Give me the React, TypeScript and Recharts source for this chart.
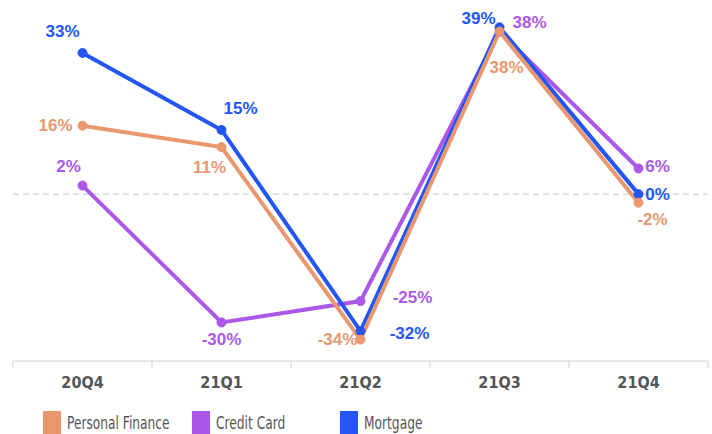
import { LineChart, Line, XAxis, YAxis, ReferenceLine, LabelList } from 'recharts'

const quarters = ['20Q4', '21Q1', '21Q2', '21Q3', '21Q4']
const personalFinance = [16, 11, -34, 38, -2]
const creditCard = [2, -30, -25, 38, 6]
const mortgage = [33, 15, -32, 39, 0]

const data = quarters.map((q, i) => ({
  quarter: q,
  personalFinance: personalFinance[i],
  creditCard: creditCard[i],
  mortgage: mortgage[i],
}))

const COLORS = {
  personalFinance: '#E8976F',
  creditCard: '#AB58E8',
  mortgage: '#2356F5',
}

// label nudges per point, [dx, dy] from the dot
const labelOffsets: Record<string, [number, number][]> = {
  mortgage: [[-20, -21], [19, -21], [49, 2], [-21, -9], [19, 0]],
  personalFinance: [[-27, 0], [-12, 20], [-23, 0], [7, 36], [14, 17]],
  creditCard: [[-14, -19], [0, 17], [52, -4], [30, -9], [19, -2]],
}

const W = 712
const H = 400
const LEFT = 13
const RIGHT = 4
const BAND = (W - LEFT - RIGHT) / quarters.length

const makeLabel = (key: string) => (props: any) => {
  const { x, y, value, index } = props
  const [dx, dy] = labelOffsets[key][index]
  return (
    <text
      x={x + dx}
      y={y + dy}
      textAnchor="middle"
      dominantBaseline="central"
      fill={COLORS[key as keyof typeof COLORS]}
      fontFamily="'Liberation Sans', Arial, sans-serif"
      fontWeight="bold"
      fontSize={17}
    >
      {value}%
    </text>
  )
}

const QuarterTick = (props: any) => {
  const { x, y, payload, index } = props
  return (
    <g>
      <line x1={x - BAND / 2} x2={x - BAND / 2} y1={y} y2={y + 7} stroke="#d0d0d0" />
      {index === quarters.length - 1 && (
        <line x1={x + BAND / 2} x2={x + BAND / 2} y1={y} y2={y + 7} stroke="#d0d0d0" />
      )}
      <text
        x={x}
        y={y + 21}
        textAnchor="middle"
        dominantBaseline="central"
        fill="#555"
        fontFamily="'DejaVu Sans Condensed', Tahoma, sans-serif"
        fontWeight="bold"
        fontSize={16}
      >
        {payload.value}
      </text>
    </g>
  )
}

const legendItems = [
  { key: 'personalFinance', name: 'Personal Finance' },
  { key: 'creditCard', name: 'Credit Card' },
  { key: 'mortgage', name: 'Mortgage' },
]

export default function App() {
  return (
    <div style={{ position: 'absolute', left: 0, top: 0, width: W, height: 434, background: '#fff', overflow: 'hidden' }}>
      <LineChart width={W} height={H} data={data} margin={{ top: 8, right: RIGHT, left: LEFT, bottom: 0 }}>
        <XAxis
          dataKey="quarter"
          scale="band"
          height={39}
          axisLine={{ stroke: '#d0d0d0' }}
          tickLine={false}
          tickSize={0}
          tickMargin={0}
          tick={<QuarterTick />}
          interval={0}
        />
        <YAxis
          width={0}
          domain={[-39, 43.5]}
          tick={false}
          tickLine={false}
          axisLine={{ stroke: '#d9d9d9' }}
        />
        <ReferenceLine y={0} stroke="#d3d3d3" strokeDasharray="6 4" strokeWidth={1.2} />
        <Line
          dataKey="creditCard"
          stroke={COLORS.creditCard}
          strokeWidth={4}
          dot={{ r: 4.5, fill: COLORS.creditCard, stroke: COLORS.creditCard, strokeWidth: 1 }}
          isAnimationActive={false}
        >
          <LabelList dataKey="creditCard" content={makeLabel('creditCard')} />
        </Line>
        <Line
          dataKey="mortgage"
          stroke={COLORS.mortgage}
          strokeWidth={4}
          dot={{ r: 4.5, fill: COLORS.mortgage, stroke: COLORS.mortgage, strokeWidth: 1 }}
          isAnimationActive={false}
        >
          <LabelList dataKey="mortgage" content={makeLabel('mortgage')} />
        </Line>
        <Line
          dataKey="personalFinance"
          stroke={COLORS.personalFinance}
          strokeWidth={4}
          dot={{ r: 4.5, fill: COLORS.personalFinance, stroke: COLORS.personalFinance, strokeWidth: 1 }}
          isAnimationActive={false}
        >
          <LabelList dataKey="personalFinance" content={makeLabel('personalFinance')} />
        </Line>
      </LineChart>
      <div style={{ position: 'absolute', top: 411, left: 43, display: 'flex' }}>
        {legendItems.map((item) => (
          <div key={item.key} style={{ display: 'flex', alignItems: 'center', width: 148.5 }}>
            <div style={{ width: 18, height: 23, background: COLORS[item.key as keyof typeof COLORS], marginRight: 6, flexShrink: 0 }} />
            <span
              style={{
                fontFamily: "'DejaVu Sans Condensed', Tahoma, sans-serif",
                fontSize: 17,
                color: '#555',
                display: 'inline-block',
                whiteSpace: 'nowrap',
                transform: 'scaleX(0.8)',
                transformOrigin: 'left center',
              }}
            >
              {item.name}
            </span>
          </div>
        ))}
      </div>
    </div>
  )
}
